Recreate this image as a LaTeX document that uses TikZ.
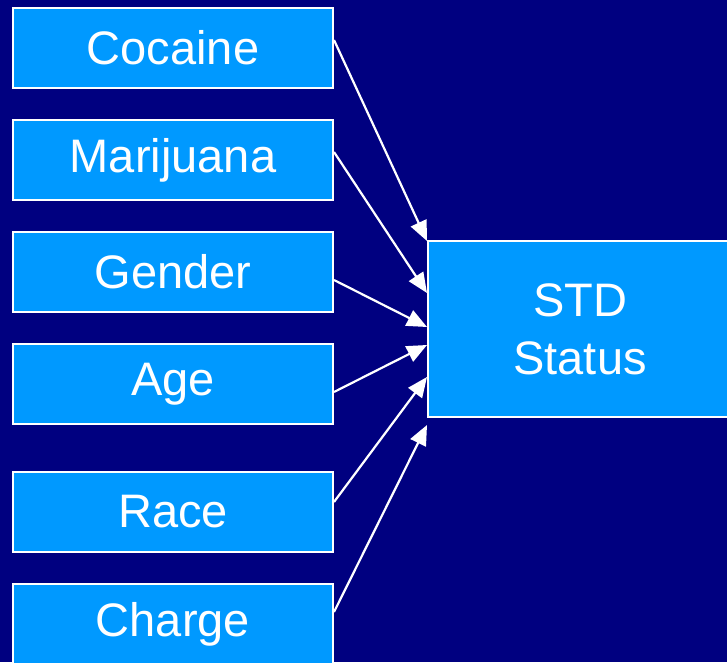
\documentclass[tikz,border=0pt]{standalone}
\usepackage{fontspec}
\setmainfont{Liberation Sans}
\usetikzlibrary{arrows.meta}
\definecolor{navy}{HTML}{000080}
\definecolor{boxblue}{HTML}{0099FF}

\begin{document}
\begin{tikzpicture}[x=1pt,y=1pt,
  var/.style={rectangle,fill=boxblue,draw=white,line width=2pt,minimum width=320pt,minimum height=80pt,inner sep=0pt,text=white,font=\fontsize{47}{54}\selectfont},
  link/.style={draw=white,line width=2.2pt,-{Triangle[length=20pt,width=17pt]}}]
\fill[navy] (0,0) rectangle (727,662);
\useasboundingbox (0,0) rectangle (727,662);
\node[var] (cocaine) at (173,614) {Cocaine};
\node[var] (marijuana) at (173,502) {Marijuana};
\node[var] (gender) at (173,390) {Gender};
\node[var] (age) at (173,278) {Age};
\node[var] (race) at (173,150) {Race};
\node[var] (charge) at (173,38) {Charge};
\node[var,minimum width=304pt,minimum height=176pt,align=center] (std) at (580,333) {STD\\[4pt]Status};
\path[link] ([yshift=8pt]cocaine.east) -- ([yshift=88pt]std.west);
\path[link] ([yshift=8pt]marijuana.east) -- ([yshift=36pt]std.west);
\path[link] ([yshift=-8pt]gender.east) -- ([yshift=2pt]std.west);
\path[link] ([yshift=-8pt]age.east) -- ([yshift=-16pt]std.west);
\path[link] ([yshift=10pt]race.east) -- ([yshift=-48pt]std.west);
\path[link] ([yshift=12pt]charge.east) -- ([yshift=-96pt]std.west);
\end{tikzpicture}
\end{document}
